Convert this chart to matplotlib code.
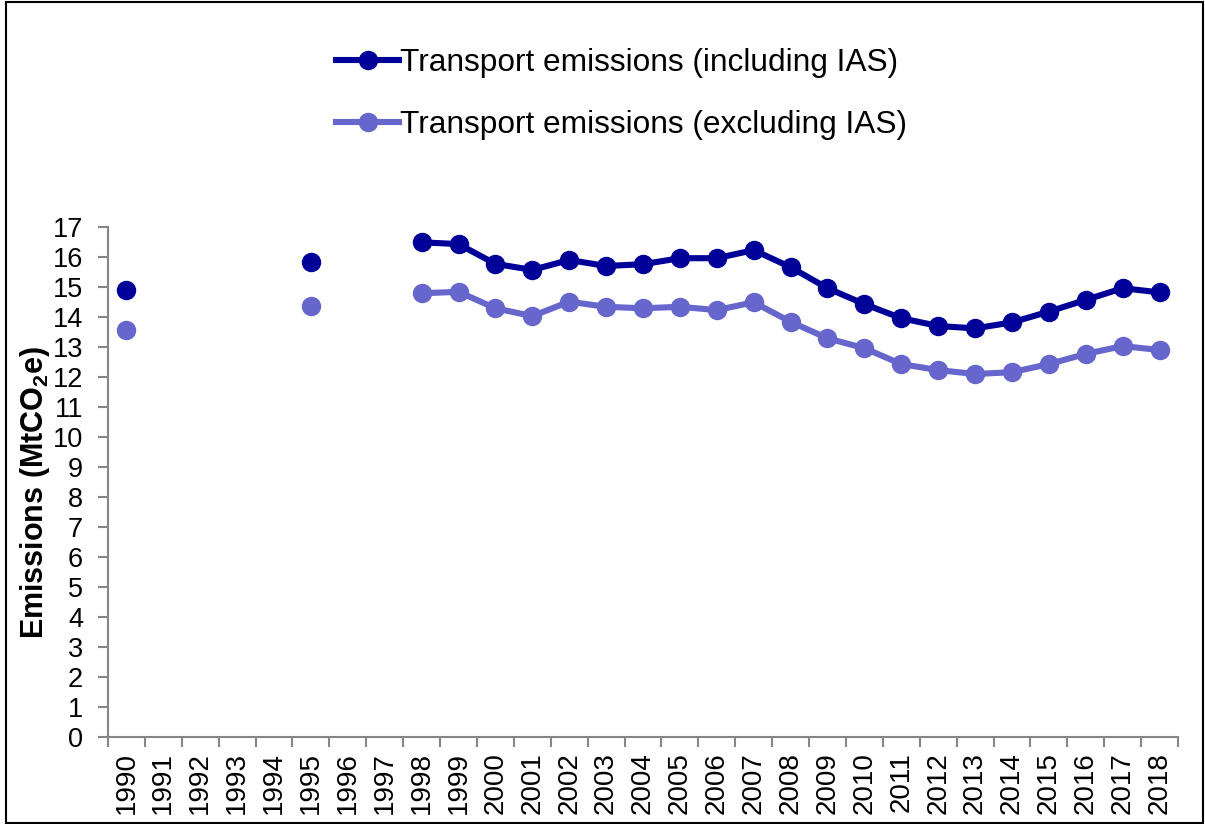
import numpy as np
import matplotlib
matplotlib.use("Agg")
import matplotlib.pyplot as plt
from matplotlib.patches import Rectangle
from matplotlib.lines import Line2D

plt.rcParams['font.family'] = ['Liberation Sans', 'DejaVu Sans']
plt.rcParams['mathtext.fontset'] = 'custom'
plt.rcParams['mathtext.bf'] = 'Liberation Sans:bold'
plt.rcParams['mathtext.rm'] = 'Liberation Sans'

years = [str(y) for y in range(1990, 2019)]
nan = np.nan
incl_ias = [14.90, nan, nan, nan, nan, 15.82, nan, nan,
            16.49, 16.43, 15.77, 15.57, 15.90, 15.70, 15.76, 15.96, 15.96, 16.23,
            15.66, 14.96, 14.43, 13.96, 13.70, 13.62, 13.82, 14.18, 14.57, 14.96, 14.82]
excl_ias = [13.57, nan, nan, nan, nan, 14.37, nan, nan,
            14.79, 14.84, 14.29, 14.03, 14.51, 14.34, 14.29, 14.34, 14.23, 14.49,
            13.84, 13.29, 12.96, 12.43, 12.23, 12.10, 12.16, 12.43, 12.77, 13.03, 12.90]
series_labels = ['Transport emissions (including IAS)', 'Transport emissions (excluding IAS)']
colors = ['#000099', '#6666CC']
y_label = r'Emissions (MtCO$\mathbf{_2}$e)'

W, H = 1205, 824
fig = plt.figure(figsize=(W / 100, H / 100), dpi=100)
ax = fig.add_axes([108 / W, 1 - 737 / H, (1178 - 108) / W, (737 - 227) / H])

x = np.arange(len(years))
for vals, col, lab in zip([incl_ias, excl_ias], colors, series_labels):
    ax.plot(x, vals, color=col, lw=4.4, marker='o', ms=13, mec=col, mfc=col,
            label=lab, solid_capstyle='round', clip_on=False)

ax.set_xlim(-0.5, len(years) - 0.5)
ax.set_ylim(0, 17)
ax.set_yticks(range(0, 18))
ax.set_yticklabels([str(v) for v in range(0, 18)], fontsize=19.5)
ax.set_xticks(x)
ax.set_xticklabels(years, rotation=90, fontsize=20)
ax.set_xticks(np.arange(-0.5, len(years), 1), minor=True)
ax.tick_params(axis='x', which='major', length=0, pad=11)
ax.tick_params(axis='x', which='minor', length=7, width=1.5, color='#868686', direction='out')
ax.tick_params(axis='y', which='major', length=7, width=1.5, color='#868686', direction='out', pad=11)
for s in ['top', 'right']:
    ax.spines[s].set_visible(False)
for s in ['left', 'bottom']:
    ax.spines[s].set_color('#868686')
    ax.spines[s].set_linewidth(1.5)

fig.text(35 / W, 1 - 492 / H, y_label, rotation=90, fontsize=22, fontweight='bold',
         ha='center', va='center')

handles = [Line2D([0], [0], color=c, lw=4.4, marker='o', ms=13, mfc=c, mec=c) for c in colors]
fig.legend(handles, series_labels, loc='upper left', bbox_to_anchor=(336 / W, 1 - 48 / H),
           frameon=False, fontsize=22.8, handlelength=2.0, handletextpad=0.03,
           labelspacing=1.0, borderaxespad=0, borderpad=0)

fig.patches.append(Rectangle((6 / W, 1 / H), (W - 8) / W, (H - 3) / H, transform=fig.transFigure,
                             fill=False, edgecolor='black', lw=1.5))

fig.savefig('out.png', dpi=100)
